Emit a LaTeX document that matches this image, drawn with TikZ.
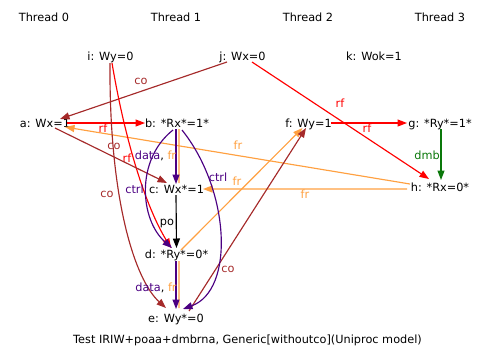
\documentclass[tikz,border=0pt]{standalone}
\usepackage{fontspec}
\setmainfont{DejaVu Sans}
\usetikzlibrary{arrows.meta,calc}
\definecolor{rfc}{HTML}{FF0000}
\definecolor{coc}{HTML}{A52A2A}
\definecolor{frc}{HTML}{FFA040}
\definecolor{ctc}{HTML}{4B0082}
\definecolor{dmbc}{HTML}{0A780A}
\begin{document}
\begin{tikzpicture}[x=1bp,y=-1bp,
  every node/.style={font=\fontsize{11.3bp}{13bp}\selectfont, text height=8bp, text depth=0pt, inner sep=0pt},
  edge/.style={line width=1.15bp, -{Triangle[length=9.5bp,width=7bp]}},
  twin/.style={line width=1.15bp, frc}]
\useasboundingbox (0,0) rectangle (489,361);
% thread headers
\node (t0) at (44,17) {Thread 0};
\node (t1) at (176,17) {Thread 1};
\node (t2) at (308,17) {Thread 2};
\node (t3) at (440,17) {Thread 3};
% events
\node (i) at (110.5,56) {i: Wy=0};
\node (j) at (242.5,56) {j: Wx=0};
\node (k) at (374,56) {k: Wok=1};
\node (a) at (45,123) {a: Wx=1};
\node (b) at (177,123) {b: *Rx*=1*};
\node (f) at (308.5,123) {f: Wy=1};
\node (g) at (440,123) {g: *Ry*=1*};
\node (c) at (176.5,189) {c: Wx*=1};
\node (h) at (440,187.5) {h: *Rx=0*};
\node (d) at (176.5,254) {d: *Ry*=0*};
\node (e) at (176,318) {e: Wy*=0};
\node (cap) at (247.5,339) {Test IRIW+poaa+dmbrna, Generic[withoutco](Uniproc model)};
% edges
\draw[edge,rfc] ($(a)+(22,0)$) -- ($(b)+(-32,0)$);
\node[text=rfc] (l1) at (103,128) {rf};
\draw[edge,coc] ($(j)+(-15.5,6)$) -- ($(a)+(15,-4)$);
\node[text=coc] (l2) at (141,80) {co};
\draw[edge,rfc] ($(j)+(9.5,6)$) -- ($(h)+(-11,-8.5)$);
\node[text=rfc] (l3) at (340,103) {rf};
\draw[edge,rfc] ($(f)+(22.5,0)$) -- ($(g)+(-33,0)$);
\node[text=rfc] (l4) at (367,128) {rf};
\draw[edge,dmbc] ($(g)+(1,6)$) -- ($(h)+(1,-7.5)$);
\node[text=dmbc] (l5) at (427,155) {dmb};
\draw[edge,frc] ($(h)+(-30,-3.5)$) -- ($(a)+(20,4)$);
\node[text=frc] (l6) at (238,145) {fr};
\draw[edge,frc] ($(h)+(-33,1.5)$) -- ($(c)+(26.5,0)$);
\node[text=frc] (l7) at (305,194) {fr};
\draw[edge,frc] ($(d)+(4.5,-4)$) -- ($(f)+(-6,5)$);
\node[text=frc] (l8) at (237,181) {fr};
\draw[edge,coc] ($(e)+(13,-7)$) -- ($(f)+(-2.5,5)$);
\node[text=coc] (l9) at (228,268) {co};
\draw[edge,coc] ($(i)+(-0.5,7)$) .. controls (109,200) and (135,280) .. ($(e)+(-10,-10)$);
\node[text=coc] (l10) at (107,193) {co};
\draw[edge,rfc] ($(i)+(1.5,7)$) .. controls (125,140) and (145,205) .. ($(d)+(-5.5,-6)$);
\node[text=rfc] (l11) at (127,158) {rf};
\draw[edge,coc] ($(a)+(10,5)$) -- ($(c)+(-9.5,-6)$);
\node[text=coc] (l12) at (114,145) {co};
\draw[twin] ($(b)+(2,6)$) -- ($(c)+(2.5,-6)$);
\draw[edge,ctc] ($(b)+(-1,6)$) -- ($(c)+(-0.5,-5)$);
\node (l13) at (155.5,155) {\textcolor{ctc}{data}, \textcolor{frc}{fr}};
\draw[edge,ctc] ($(b)+(-4,7)$) .. controls (135,160) and (140,220) .. ($(d)+(-4.5,-6)$);
\node[text=ctc] (l14) at (134.5,189) {ctrl};
\draw[edge,ctc] ($(b)+(5,7)$) .. controls (230,190) and (235,290) .. ($(e)+(7,-9)$);
\node[text=ctc] (l15) at (218,177) {ctrl};
\draw[edge,black] ($(c)+(-0.5,6)$) -- ($(d)+(0,-6)$);
\node (l16) at (167,221) {po};
\draw[twin] ($(d)+(2.5,7)$) -- ($(e)+(3,-10)$);
\draw[edge,ctc] ($(d)+(-0.5,7)$) -- ($(e)+(0,-9)$);
\node (l17) at (156,287) {\textcolor{ctc}{data}, \textcolor{frc}{fr}};
\end{tikzpicture}
\end{document}
